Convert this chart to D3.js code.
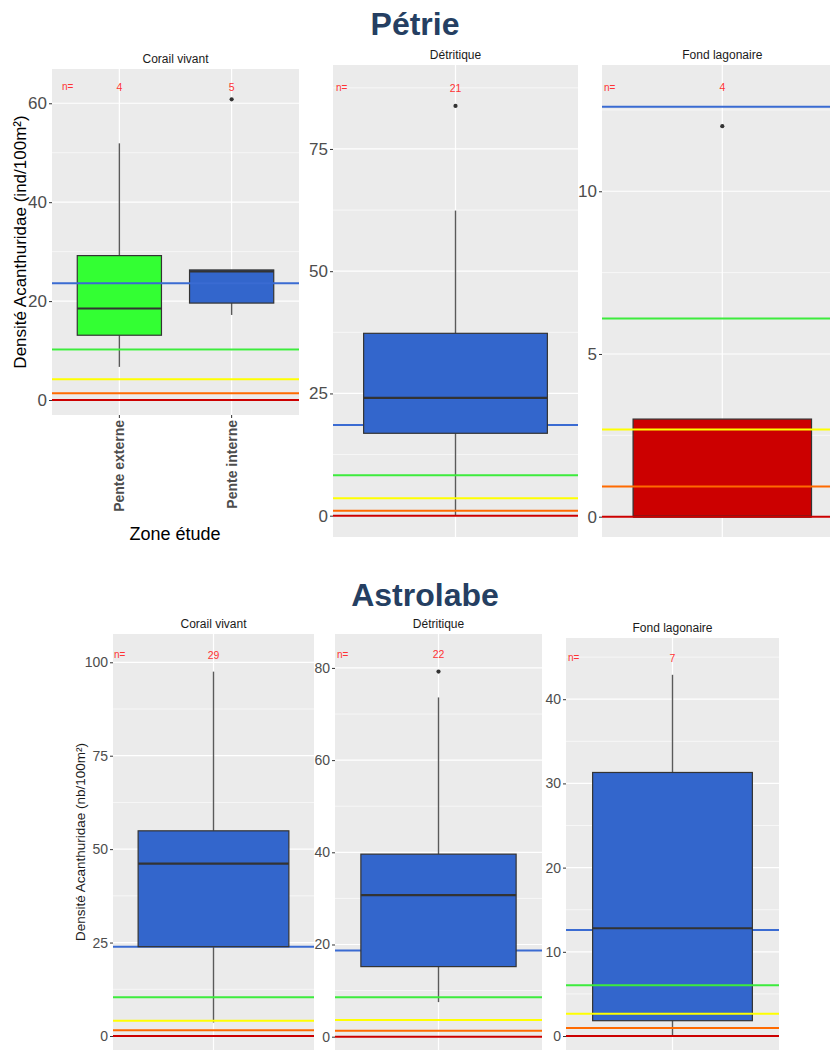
<!DOCTYPE html>
<html>
<head>
<meta charset="utf-8">
<script src="https://cdn.jsdelivr.net/npm/d3@7"></script>
<style>
  body { margin: 0; background: #fff; }
  svg { display: block; font-family: "Liberation Sans", Arial, sans-serif; }
</style>
</head>
<body>
<svg id="chart" width="830" height="1050"></svg>
<script>
// ---------- data ----------
const siteNames = ["Pétrie", "Astrolabe"];
const habitats = ["Corail vivant", "Détritique", "Fond lagonaire"];

// Pétrie: categories per habitat panel
const petrieZones = [["Pente externe", "Pente interne"], ["Détritique"], ["Fond lagonaire"]];
// box statistics: [lower whisker, Q1, median, Q3, upper whisker]
const petrieBoxes = [
  [[6.7, 13.1, 18.5, 29.2, 51.9], [17.2, 19.6, 26.0, 26.3, 26.3]],
  [[0, 16.85, 24.1, 37.3, 62.4]],
  [[0, 0, 0, 3, 0]]
];
const petrieOutliers = [[[], [60.8]], [[83.8]], [[12]]];
const petrieCounts = [[4, 5], [21], [4]];
const petrieFills = [["#33FF33", "#3366CC"], ["#3366CC"], ["#CC0000"]];
// reference densities: blue, green, yellow, orange, red
const petrieThresholds = [
  [23.6, 10.2, 4.2, 1.35, 0],
  [18.55, 8.26, 3.56, 1.02, 0],
  [12.6, 6.09, 2.68, 0.93, 0]
];
const petrieTicks = [[0, 20, 40, 60], [0, 25, 50, 75], [0, 5, 10]];
const petrieMinorTicks = [[10, 30, 50], [12.5, 37.5, 62.5, 87.5], [2.5, 7.5, 12.5]];
const petrieCountY = [63.3, 87.5, 13.2];

// Astrolabe
const astrolabeZones = [["Corail vivant"], ["Détritique"], ["Fond lagonaire"]];
const astrolabeBoxes = [
  [[3.6, 23.9, 46.1, 54.9, 97.5]],
  [[7.5, 15.2, 30.7, 39.6, 73.6]],
  [[0, 1.82, 12.8, 31.3, 42.9]]
];
const astrolabeOutliers = [[[]], [[79.2]], [[]]];
const astrolabeCounts = [[29], [22], [7]];
const astrolabeFills = [["#3366CC"], ["#3366CC"], ["#3366CC"]];
const astrolabeThresholds = [
  [23.9, 10.35, 4.1, 1.52, 0],
  [18.7, 8.56, 3.6, 1.3, 0],
  [12.6, 6.02, 2.65, 0.95, 0]
];
const astrolabeTicks = [[0, 25, 50, 75, 100], [0, 20, 40, 60, 80], [0, 10, 20, 30, 40]];
const astrolabeMinorTicks = [[12.5, 37.5, 62.5, 87.5], [10, 30, 50, 70], [5, 15, 25, 35, 45]];
const astrolabeCountY = [102, 83, 44.9];

const thresholdColors = ["#3A6BD2", "#3DEB3D", "#FFFF00", "#FF6A00", "#CC0000"];

// ---------- layout ----------
const petrieLayout = [
  { x0: 52, x1: 299, y0: 69, y1: 415, yMin: -3.03, yMax: 66.93, boxWidth: 0.75, nOffset: 10, blueAbove: true, xTicks: true },
  { x0: 333, x1: 578, y0: 65, y1: 537, yMin: -4.36, yMax: 92.17, boxWidth: 0.9, nOffset: 3 },
  { x0: 602, x1: 842.6, y0: 65, y1: 537, yMin: -0.624, yMax: 13.88, boxWidth: 0.89, nOffset: 2 }
];
const astrolabeLayout = [
  { x0: 113, x1: 314, y0: 634, y1: 1050, yMin: -3.75, yMax: 107.57, boxWidth: 0.9, nOffset: 1 },
  { x0: 335, x1: 542, y0: 634, y1: 1050, yMin: -2.89, yMax: 87.36, boxWidth: 0.9, nOffset: 2 },
  { x0: 566, x1: 779, y0: 638, y1: 1050, yMin: -1.66, yMax: 47.27, boxWidth: 0.9, nOffset: 2 }
];

const svg = d3.select("#chart");
const defs = svg.append("defs");
let clipId = 0;

function drawPanel(p) {
  const L = p.layout;
  const g = svg.append("g");
  const x = d3.scalePoint().domain(p.zones).range([L.x0, L.x1]).padding(0.6);
  const y = d3.scaleLinear().domain([L.yMin, L.yMax]).range([L.y1, L.y0]);
  const step = x.step();

  const id = "clip" + (clipId++);
  defs.append("clipPath").attr("id", id)
    .append("rect").attr("x", L.x0).attr("y", L.y0)
    .attr("width", L.x1 - L.x0).attr("height", L.y1 - L.y0);

  // facet title
  g.append("text")
    .attr("x", (L.x0 + L.x1) / 2).attr("y", L.y0 - 6)
    .attr("text-anchor", "middle")
    .attr("font-size", p.titleSize).attr("fill", "#1a1a1a")
    .text(p.title);

  const body = g.append("g").attr("clip-path", `url(#${id})`);
  body.append("rect")
    .attr("x", L.x0).attr("y", L.y0)
    .attr("width", L.x1 - L.x0).attr("height", L.y1 - L.y0)
    .attr("fill", "#EBEBEB");

  // grid
  body.selectAll(".minor").data(p.minor).join("line")
    .attr("x1", L.x0).attr("x2", L.x1)
    .attr("y1", d => y(d)).attr("y2", d => y(d))
    .attr("stroke", "#fff").attr("stroke-width", 0.6);
  body.selectAll(".major").data(p.ticks).join("line")
    .attr("x1", L.x0).attr("x2", L.x1)
    .attr("y1", d => y(d)).attr("y2", d => y(d))
    .attr("stroke", "#fff").attr("stroke-width", 1.2);
  body.selectAll(".vgrid").data(p.zones).join("line")
    .attr("x1", d => x(d)).attr("x2", d => x(d))
    .attr("y1", L.y0).attr("y2", L.y1)
    .attr("stroke", "#fff").attr("stroke-width", 1.2);

  const refLines = p.thresholds.map((v, i) => ({ v, c: thresholdColors[i], i }));
  const drawRefs = list => body.append("g").selectAll("line").data(list).join("line")
    .attr("x1", L.x0).attr("x2", L.x1)
    .attr("y1", d => y(d.v)).attr("y2", d => y(d.v))
    .attr("stroke", d => d.c).attr("stroke-width", 2);

  if (!L.blueAbove) drawRefs(refLines.filter(d => d.i === 0));

  // boxplots
  const boxes = p.zones.map((z, i) => ({ z, s: p.boxes[i], fill: p.fills[i], out: p.outliers[i] }));
  const bg = body.append("g");
  boxes.forEach(b => {
    const cx = x(b.z);
    const hw = (L.boxWidth * step) / 2;
    const [lo, q1, med, q3, hi] = b.s;
    if (hi > q3) bg.append("line").attr("x1", cx).attr("x2", cx).attr("y1", y(q3)).attr("y2", y(hi))
      .attr("stroke", "#5a5a5a").attr("stroke-width", 1.4);
    if (lo < q1) bg.append("line").attr("x1", cx).attr("x2", cx).attr("y1", y(q1)).attr("y2", y(lo))
      .attr("stroke", "#5a5a5a").attr("stroke-width", 1.4);
    bg.append("rect")
      .attr("x", cx - hw).attr("y", y(q3))
      .attr("width", 2 * hw).attr("height", Math.max(0, y(q1) - y(q3)))
      .attr("fill", b.fill).attr("stroke", "#333").attr("stroke-width", 1.2);
    bg.append("line").attr("x1", cx - hw).attr("x2", cx + hw)
      .attr("y1", y(med)).attr("y2", y(med))
      .attr("stroke", "#333").attr("stroke-width", 2.2);
    bg.selectAll(null).data(b.out).join("circle")
      .attr("cx", cx).attr("cy", d => y(d)).attr("r", 2.1).attr("fill", "#333");
  });

  drawRefs(refLines.filter(d => L.blueAbove || d.i !== 0));

  // sample sizes
  body.append("text")
    .attr("x", L.x0 + L.nOffset).attr("y", y(p.countY))
    .attr("dominant-baseline", "central")
    .attr("font-size", 10).attr("fill", "#FF3333").text("n=");
  body.selectAll(".cnt").data(p.zones).join("text")
    .attr("x", d => x(d)).attr("y", y(p.countY))
    .attr("text-anchor", "middle").attr("dominant-baseline", "central")
    .attr("font-size", 10.5).attr("fill", "#FF3333")
    .text((d, i) => p.counts[i]);

  // y axis
  const ax = g.append("g").attr("transform", `translate(${L.x0},0)`)
    .call(d3.axisLeft(y).tickValues(p.ticks).tickSize(3).tickPadding(2).tickFormat(d3.format("d")));
  ax.select(".domain").remove();
  ax.selectAll(".tick line").attr("stroke", "#333");
  ax.selectAll(".tick text").attr("fill", "#4D4D4D").attr("font-size", p.tickSize)
    .attr("font-family", "Liberation Sans, Arial, sans-serif");

  // x ticks
  if (L.xTicks) {
    g.selectAll(".xt").data(p.zones).join("line")
      .attr("x1", d => x(d)).attr("x2", d => x(d))
      .attr("y1", L.y1).attr("y2", L.y1 + 3)
      .attr("stroke", "#333");
  }

  return { x, y };
}

// ---------- Pétrie ----------
svg.append("text").attr("x", 415).attr("y", 35).attr("text-anchor", "middle")
  .attr("font-size", 32).attr("font-weight", "bold").attr("fill", "#253F62")
  .text(siteNames[0]);

let firstScales = null;
habitats.forEach((h, i) => {
  const s = drawPanel({
    layout: petrieLayout[i], title: h, titleSize: 12, tickSize: 17,
    zones: petrieZones[i], boxes: petrieBoxes[i], outliers: petrieOutliers[i],
    counts: petrieCounts[i], fills: petrieFills[i], thresholds: petrieThresholds[i],
    ticks: petrieTicks[i], minor: petrieMinorTicks[i], countY: petrieCountY[i]
  });
  if (i === 0) firstScales = s;
});

// category labels and axis titles of the first Pétrie panel
svg.append("g").selectAll("text").data(petrieZones[0]).join("text")
  .attr("transform", d => `translate(${firstScales.x(d) + 5},${petrieLayout[0].y1 + 5}) rotate(-90)`)
  .attr("text-anchor", "end")
  .attr("font-size", 14).attr("font-weight", "bold").attr("fill", "#4D4D4D")
  .text(d => d);

svg.append("text").attr("x", 175).attr("y", 540).attr("text-anchor", "middle")
  .attr("font-size", 18).attr("fill", "#000").text("Zone étude");

svg.append("text")
  .attr("transform", `translate(26,${(petrieLayout[0].y0 + petrieLayout[0].y1) / 2}) rotate(-90)`)
  .attr("text-anchor", "middle").attr("font-size", 17).attr("fill", "#000")
  .text("Densité Acanthuridae (ind/100m²)");

// ---------- Astrolabe ----------
svg.append("text").attr("x", 425).attr("y", 606).attr("text-anchor", "middle")
  .attr("font-size", 32).attr("font-weight", "bold").attr("fill", "#253F62")
  .text(siteNames[1]);

habitats.forEach((h, i) => {
  drawPanel({
    layout: astrolabeLayout[i], title: h, titleSize: 12, tickSize: 14,
    zones: astrolabeZones[i], boxes: astrolabeBoxes[i], outliers: astrolabeOutliers[i],
    counts: astrolabeCounts[i], fills: astrolabeFills[i], thresholds: astrolabeThresholds[i],
    ticks: astrolabeTicks[i], minor: astrolabeMinorTicks[i], countY: astrolabeCountY[i]
  });
});

svg.append("text")
  .attr("transform", `translate(85,${(astrolabeLayout[0].y0 + astrolabeLayout[0].y1) / 2}) rotate(-90)`)
  .attr("text-anchor", "middle").attr("font-size", 13.5).attr("fill", "#1a1a1a")
  .text("Densité Acanthuridae (nb/100m²)");
</script>
</body>
</html>
